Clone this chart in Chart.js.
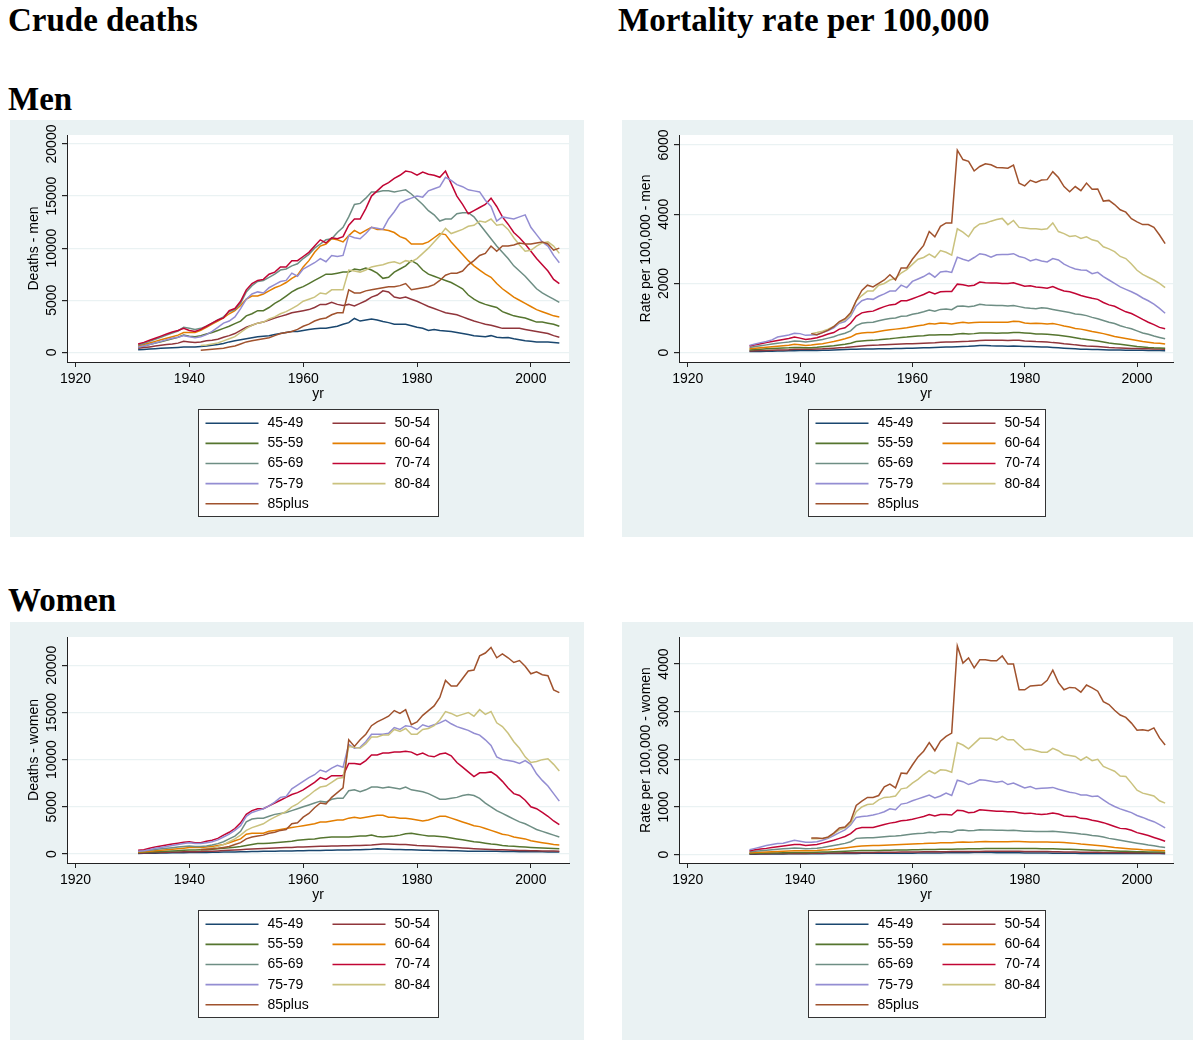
<!DOCTYPE html>
<html>
<head>
<meta charset="utf-8">
<script src="https://cdn.jsdelivr.net/npm/chart.js@4.4.1/dist/chart.umd.min.js"></script>
<style>
  body { margin: 0; width: 1200px; height: 1051px; background: #fff; position: relative; overflow: hidden; }
  .head { position: absolute; font: bold 33px "Liberation Serif", "Times New Roman", serif; line-height: 33px; color: #000; white-space: nowrap; }
  canvas { position: absolute; }
</style>
</head>
<body>
<div class="head" style="left:8px;top:4px">Crude deaths</div>
<div class="head" style="left:618px;top:4px">Mortality rate per 100,000</div>
<div class="head" style="left:8px;top:83px">Men</div>
<div class="head" style="left:8px;top:584px">Women</div>

<canvas id="deathsMen" width="574" height="417" style="left:10px;top:120px"></canvas>
<canvas id="rateMen" width="571" height="417" style="left:622px;top:120px"></canvas>
<canvas id="deathsWomen" width="574" height="418" style="left:10px;top:622px"></canvas>
<canvas id="rateWomen" width="571" height="418" style="left:622px;top:622px"></canvas>

<script>
// years 1931-2005
const years = [1931,1932,1933,1934,1935,1936,1937,1938,1939,1940,
  1941,1942,1943,1944,1945,1946,1947,1948,1949,1950,
  1951,1952,1953,1954,1955,1956,1957,1958,1959,1960,
  1961,1962,1963,1964,1965,1966,1967,1968,1969,1970,
  1971,1972,1973,1974,1975,1976,1977,1978,1979,1980,
  1981,1982,1983,1984,1985,1986,1987,1988,1989,1990,
  1991,1992,1993,1994,1995,1996,1997,1998,1999,2000,
  2001,2002,2003,2004,2005];
const ageGroups = ['45-49','50-54','55-59','60-64','65-69','70-74','75-79','80-84','85plus'];
const ageColors = ['#1a476f','#90353b','#55752f','#e37e00','#6e8e84','#c10534','#938dd2','#cac27e','#a0522d'];
const xTicks = [1920, 1940, 1960, 1980, 2000];
const deathTicksMen = [0, 5000, 10000, 15000, 20000];
const rateTicksMen = [0, 2000, 4000, 6000];
const deathTicksWomen = [0, 5000, 10000, 15000, 20000];
const rateTicksWomen = [0, 1000, 2000, 3000, 4000];
const n = null;

// ---- crude deaths, men
const deathsMen45 = [250,280,320,350,380,410,440,470,500,500, 500,550,600,680,750,850,1000,1100,1200,1300,
  1400,1500,1550,1600,1700,1800,1900,2000,2000,2100, 2200,2250,2300,2300,2400,2500,2700,2850,3250,3000,
  3100,3200,3100,2950,2850,2700,2700,2700,2550,2400, 2300,2100,2200,2100,2050,2000,1900,1800,1700,1600,
  1550,1500,1600,1450,1400,1420,1300,1200,1100,1050, 1000,1000,980,950,900];
const deathsMen50 = [400,450,520,600,680,750,800,880,1050,1000, 950,1000,1100,1150,1250,1450,1600,1800,2100,2400,
  2600,2800,2900,3100,3300,3450,3600,3800,3900,4000, 4100,4300,4600,4600,4800,4600,4500,4600,4450,4700,
  4950,5300,5500,5900,5800,5300,5200,5300,5100,4900, 4650,4400,4200,4000,3800,3700,3600,3400,3200,3000,
  2850,2700,2600,2450,2300,2300,2300,2300,2200,2100, 2000,1900,1800,1600,1450];
const deathsMen55 = [500,600,750,900,1000,1150,1300,1450,1650,1550, 1500,1600,1750,1900,2100,2300,2500,2750,3000,3500,
  3700,4000,4000,4300,4700,5000,5400,5800,6100,6300, 6600,6900,7200,7500,7500,7600,7700,7700,8000,7900,
  8100,7900,7600,7100,7200,7700,8000,8300,8800,8500, 7900,7500,7300,7100,6900,6700,6400,6100,5500,5100,
  4800,4600,4450,4300,3900,3700,3500,3400,3300,3100, 2900,2900,2800,2700,2500];
const deathsMen60 = [600,750,900,1050,1200,1350,1500,1650,1900,1900, 1900,2100,2400,2700,3000,3300,3700,4000,4500,5100,
  5400,5400,5600,5900,6200,6400,6700,7100,7400,8200, 8800,9600,10200,10400,10900,10800,10600,11200,11700,11400,
  11700,12000,11800,11800,11700,11500,11100,10900,10400,10400, 10400,10600,11000,11400,11300,10600,10000,9400,8800,8300,
  7900,7500,7200,6600,6100,5700,5300,5000,4700,4400, 4100,3900,3700,3500,3400];
const deathsMen65 = [700,850,1050,1250,1450,1650,1850,2050,2400,2300, 2200,2300,2500,2800,3100,3400,3900,4100,4700,5800,
  6400,6800,6900,7200,7500,7900,8000,8300,8500,9000, 9400,10000,10400,10800,10900,11500,12000,13000,14200,14300,
  14800,15400,15400,15500,15500,15400,15500,15600,15200,14700, 14200,13600,13200,12600,12800,12800,13300,13400,13400,13000,
  12300,11600,10900,10200,9600,9000,8300,7800,7300,6700, 6100,5700,5400,5100,4800];
const deathsMen70 = [800,950,1150,1350,1550,1750,1950,2100,2300,2100, 2000,2200,2500,2800,3100,3300,4000,4200,4900,6000,
  6600,6900,7000,7500,7700,8200,8200,8800,8800,9200, 9600,10200,10800,10500,11000,10900,11100,12200,12800,12800,
  13800,15000,15500,16000,16300,16700,17000,17400,17300,17000, 17300,17100,17000,16800,17400,16200,15000,14200,13300,13600,
  13900,14200,14800,14000,13000,12300,11500,11000,10400,9700, 9000,8400,7800,7000,6600];
const deathsMen75 = [500,600,750,900,1050,1200,1350,1450,1600,1500, 1400,1500,1700,2000,2400,2800,3000,3400,4200,5100,
  5600,5800,5700,6200,6500,6800,6900,7600,7300,8000, 8300,8600,9000,8700,9300,9200,9300,11200,11000,10900,
  11400,12000,11900,11800,12800,13500,14300,14600,14800,15000, 14900,15500,15700,15900,16800,16500,16100,15900,15600,15500,
  15400,14600,14000,12600,13000,12900,12800,13000,13200,12000, 11300,10600,10200,9300,8600];
const deathsMen80 = [n,n,n,n,n,n,n,n,n,n, n,650,700,800,900,1100,1300,1500,1900,2300,
  2600,2800,2900,3200,3400,3700,3900,4200,4500,4900, 5100,5300,5700,5600,6000,6000,6000,7900,7800,7700,
  7900,8200,8300,8400,8600,8700,8500,8800,8700,9000, 9500,10000,10600,11200,11900,11400,11600,11800,12100,12200,
  12600,12500,12800,12200,12300,11800,11000,10300,9700,9800, 10200,10500,10600,10200,9500];
const deathsMen85 = [n,n,n,n,n,n,n,n,n,n, n,200,250,300,350,400,500,600,800,1000,
  1100,1200,1300,1400,1600,1800,1900,2000,2200,2500, 2700,3000,3200,3300,3600,3800,3800,6000,5700,5700,
  5900,6000,6100,6200,6300,6300,6400,6600,6000,6100, 6200,6300,6500,6900,7400,7600,7600,7800,8400,8800,
  9300,9500,10200,9700,10200,10200,10300,10500,10400,10400, 10500,10600,10400,9800,10000];

// ---- mortality rate per 100,000, men
const rateMen45 = [30,33,36,40,43,46,50,53,58,60, 60,62,65,68,72,76,82,88,95,100,
  103,106,108,110,113,116,120,123,127,130, 135,140,145,150,155,160,165,172,180,185,
  195,205,210,200,195,190,188,190,185,180, 175,170,165,160,150,140,130,120,110,100,
  95,90,88,85,80,78,75,72,70,68, 66,64,62,60,58];
const rateMen50 = [50,55,60,65,70,75,80,85,95,95, 95,100,105,110,120,130,140,150,165,180,
  195,205,215,220,230,235,240,248,255,260, 265,272,280,285,300,305,310,318,325,330,
  340,350,355,360,360,355,350,360,355,340, 330,320,315,305,290,280,260,245,225,210,
  195,185,175,165,150,140,135,128,122,120, 115,112,108,105,100];
const rateMen55 = [80,90,100,110,120,128,135,140,150,150, 140,145,155,170,185,200,220,240,270,320,
  340,350,355,370,390,400,420,440,450,470, 480,490,510,510,520,520,520,540,550,540,
  550,570,570,570,560,570,570,580,580,570, 560,540,540,530,520,500,480,460,430,400,
  380,360,340,310,280,260,240,220,200,180, 165,150,140,135,130];
const rateMen60 = [110,125,140,155,170,185,200,215,240,230, 210,220,240,260,290,320,360,400,450,540,
  570,580,580,610,640,660,680,700,720,750, 780,800,840,830,860,850,830,860,880,860,
  870,880,880,880,880,880,880,910,900,860, 840,850,840,830,840,810,770,740,700,680,
  650,610,580,550,510,470,440,410,380,350, 320,300,280,270,250];
const rateMen65 = [150,175,200,225,250,270,290,310,340,330, 310,330,350,380,420,460,520,560,630,780,
  850,870,880,920,960,990,1000,1050,1060,1110, 1140,1180,1230,1200,1250,1260,1240,1340,1350,1330,
  1350,1400,1380,1370,1360,1360,1350,1360,1330,1300, 1280,1270,1300,1280,1250,1220,1190,1160,1120,1100,
  1070,1020,980,930,880,840,780,730,690,630, 570,530,480,440,400];
const rateMen70 = [190,230,260,290,320,350,380,410,450,420, 380,400,430,480,540,580,680,720,850,1050,
  1150,1180,1200,1270,1330,1380,1400,1500,1500,1560, 1620,1680,1760,1700,1760,1770,1770,1980,1960,1930,
  1950,2040,2020,2010,2010,2000,2000,2020,1970,1920, 1930,1900,1880,1860,1910,1840,1780,1760,1710,1650,
  1610,1570,1540,1450,1380,1340,1260,1180,1130,1050, 960,880,810,730,690];
const rateMen75 = [210,250,290,320,370,450,480,510,560,550, 500,510,520,580,640,720,850,900,1050,1350,
  1500,1560,1540,1630,1700,1780,1780,1950,1880,2060, 2130,2200,2300,2180,2330,2350,2320,2760,2700,2650,
  2750,2860,2830,2760,2830,2840,2840,2860,2780,2740, 2650,2700,2650,2620,2720,2680,2560,2480,2420,2390,
  2380,2280,2320,2200,2100,2000,1900,1830,1760,1680, 1580,1500,1400,1280,1140];
const rateMen80 = [n,n,n,n,n,n,n,n,n,n, n,550,580,620,680,760,880,950,1100,1500,
  1650,1780,1780,1950,2000,2100,2150,2300,2400,2550, 2700,2750,2850,2750,2950,2900,2820,3580,3480,3350,
  3600,3720,3740,3800,3850,3880,3700,3820,3620,3600, 3580,3580,3560,3580,3750,3500,3440,3360,3380,3300,
  3350,3260,3220,3060,3000,2920,2780,2720,2560,2380, 2260,2180,2100,2000,1880];
const rateMen85 = [n,n,n,n,n,n,n,n,n,n, n,550,520,580,650,750,900,980,1150,1500,
  1800,1950,1900,2000,2100,2250,2100,2450,2450,2700, 2900,3100,3500,3350,3650,3750,3750,5850,5580,5530,
  5250,5380,5460,5430,5350,5340,5330,5420,4900,4820, 4980,4920,4990,5000,5230,5060,4800,4650,4800,4680,
  4900,4720,4730,4380,4400,4280,4130,4060,3870,3780, 3700,3700,3620,3400,3150];

// ---- crude deaths, women
const deathsWomen45 = [60,70,80,90,100,110,120,130,140,150, 150,160,170,180,190,200,210,220,240,250,
  260,270,280,290,300,310,320,330,340,350, 360,370,380,390,400,410,420,430,450,450,
  480,500,550,520,500,480,470,460,440,420, 400,390,380,370,360,350,340,320,300,300,
  290,290,280,280,270,260,260,250,250,240, 230,230,220,210,200];
const deathsWomen50 = [100,115,130,150,170,185,200,215,240,250, 250,260,280,300,330,360,390,420,460,500,
  530,560,590,610,630,660,680,700,730,750, 770,790,810,820,850,860,870,880,900,900,
  920,950,1000,1050,1050,1030,1010,1000,950,900, 870,840,810,780,750,720,680,640,600,560,
  530,500,480,460,450,430,400,380,360,350, 340,330,320,310,300];
const deathsWomen55 = [150,175,200,230,260,290,320,350,390,420, 430,440,460,500,550,600,650,720,800,900,
  1000,1100,1100,1150,1200,1250,1300,1350,1450,1500, 1550,1600,1700,1750,1800,1800,1800,1800,1850,1900,
  1900,2000,1850,1800,1850,1900,2000,2150,2200,2100, 2000,1900,1900,1850,1800,1700,1600,1500,1400,1300,
  1250,1150,1050,1000,900,850,820,780,740,700, 670,640,610,580,550];
const deathsWomen60 = [200,240,290,340,400,450,500,560,620,680, 700,700,750,800,900,1000,1200,1400,1600,2100,
  2200,2200,2200,2400,2500,2600,2700,2800,2900,3000, 3100,3200,3400,3400,3500,3600,3600,3800,3900,3800,
  3900,4000,4100,4100,3900,3900,3800,3800,3700,3600, 3500,3600,3800,4000,4000,3800,3600,3400,3200,3000,
  2900,2700,2500,2300,2100,2000,1800,1700,1600,1400, 1300,1200,1100,1000,950];
const deathsWomen65 = [300,340,400,470,550,610,670,730,800,850, 800,800,850,950,1100,1300,1600,1900,2400,3400,
  3700,3800,3800,4000,4200,4300,4400,4600,4800,5000, 5200,5400,5600,5500,5800,5900,5900,6700,6800,6600,
  6800,7100,7100,7000,7100,7000,6900,7100,6800,6700, 6600,6400,6100,5800,5800,5900,6000,6200,6300,6200,
  5900,5400,5000,4600,4300,4000,3700,3400,3200,2900, 2600,2400,2200,2000,1800];
const deathsWomen70 = [400,450,600,750,850,950,1050,1150,1250,1300, 1200,1200,1350,1450,1650,2000,2300,2700,3300,4200,
  4600,4800,4800,5100,5400,5700,6000,6300,6500,6800, 7200,7600,8100,7900,8300,8300,8300,9600,9600,9500,
  9900,10500,10500,10700,10700,10800,10800,10900,10800,10500, 10700,10400,10300,10600,10700,10400,9700,9200,8700,8200,
  8600,8600,8700,8300,7700,7000,6400,6200,5700,5000, 4800,4400,4000,3500,3100];
const deathsWomen75 = [300,350,450,600,700,800,900,1000,1100,1200, 1100,1100,1200,1300,1500,1800,2100,2500,3000,4000,
  4400,4600,4800,5100,5500,6000,6100,6900,7300,7700, 8100,8400,8900,8700,9100,9400,9200,11600,11200,11300,
  11900,12700,12700,12700,12800,13400,13200,13600,13500,13200, 13700,13500,13700,13900,14200,13800,13500,13300,13100,12800,
  12600,12100,11500,10300,10000,9900,9800,9600,9900,9500, 8500,7800,7200,6400,5600];
const deathsWomen80 = [n,n,n,n,n,n,n,n,n,n, n,500,550,650,800,1000,1300,1600,2000,2500,
  2800,3000,3200,3600,3900,4200,4500,5000,5300,5800, 6200,6700,7100,7200,7600,8000,8100,11400,11300,11200,
  11700,12400,12400,12600,12600,13200,13000,13300,12700,12700, 13200,13300,13600,14200,15100,14900,14600,14800,15000,14600,
  15300,14800,15100,13900,13500,12800,11900,11200,10300,9700, 9800,10000,10100,9500,8800];
const deathsWomen85 = [n,n,n,n,n,n,n,n,n,n, n,450,500,550,600,700,800,1000,1200,1600,
  1800,1900,2000,2200,2300,2500,2600,3200,3300,3900, 4300,4900,5400,5300,6000,6500,7000,12100,11400,12100,
  12700,13600,14000,14300,14600,15200,14900,15300,13700,14000, 14700,15200,15700,16600,18400,17800,17800,18600,19400,19500,
  21000,21300,21900,20800,21200,20800,20300,20500,19900,19100, 19300,19000,18900,17400,17100];

// ---- mortality rate per 100,000, women
const rateWomen45 = [8,9,10,11,12,13,14,15,16,16, 16,17,18,19,20,21,22,23,24,25,
  26,26,27,27,28,28,29,29,30,30, 31,32,33,34,35,36,37,38,39,40,
  41,42,42,41,40,39,38,37,36,35, 34,33,32,31,30,29,28,27,26,25,
  25,24,24,23,23,22,22,21,21,21, 20,20,20,20,19];
const rateWomen50 = [15,16,17,18,20,21,22,23,24,25, 25,26,27,29,31,33,35,37,39,40,
  42,44,45,47,48,50,51,52,54,55, 56,57,58,59,60,61,62,63,64,65,
  66,67,68,69,70,70,70,70,68,67, 66,65,64,62,60,58,56,54,52,50,
  49,48,47,46,45,44,42,40,38,37, 36,36,35,35,35];
const rateWomen55 = [25,27,29,31,33,35,37,40,43,45, 44,45,48,52,56,60,65,70,75,80,
  83,85,86,88,90,92,94,96,98,100, 102,104,106,108,110,112,114,116,118,120,
  122,124,126,127,128,129,130,130,130,128, 126,125,124,123,120,117,114,110,105,100,
  96,92,88,84,80,76,72,68,64,60, 58,56,54,52,50];
const rateWomen60 = [40,45,50,55,60,65,70,75,80,80, 78,80,85,95,100,110,125,140,155,170,
  180,185,188,192,196,200,205,210,215,220, 225,230,240,240,250,250,250,260,265,260,
  262,270,272,270,270,270,268,272,272,270, 265,262,262,262,260,258,252,245,235,220,
  210,200,190,178,165,150,138,128,118,110, 100,95,90,85,80];
const rateWomen65 = [60,70,80,90,100,110,120,130,140,135, 120,125,135,150,170,190,210,235,270,340,
  350,355,355,365,375,385,390,400,415,430, 440,450,470,460,480,480,470,510,515,500,
  505,520,515,515,510,510,505,510,500,490, 490,485,485,485,490,480,470,460,450,430,
  420,400,390,370,340,320,300,280,260,240, 220,200,185,165,150];
const rateWomen70 = [80,100,115,130,150,165,180,195,210,210, 190,200,210,240,270,300,340,380,440,540,
  570,570,570,600,630,660,680,710,720,740, 770,800,840,810,840,840,830,930,920,880,
  890,940,930,920,910,910,900,900,880,860, 870,850,840,850,870,850,810,800,800,760,
  750,720,700,670,630,590,550,540,510,460, 430,400,360,320,280];
const rateWomen75 = [100,130,160,190,210,230,240,270,300,280, 260,260,270,300,340,400,460,520,620,780,
  800,810,830,860,900,960,940,1060,1080,1130, 1170,1210,1250,1190,1230,1290,1240,1560,1530,1470,
  1510,1570,1560,1540,1520,1540,1470,1500,1450,1400, 1430,1380,1390,1400,1410,1370,1340,1310,1290,1250,
  1250,1220,1230,1150,1070,1010,960,920,880,820, 780,730,690,630,560];
const rateWomen80 = [n,n,n,n,n,n,n,n,n,n, n,330,330,340,360,440,520,560,650,900,
  1000,1050,1060,1150,1200,1210,1230,1380,1400,1500, 1580,1680,1760,1700,1780,1770,1730,2350,2300,2220,
  2330,2440,2440,2440,2400,2480,2410,2410,2300,2200, 2210,2180,2150,2150,2230,2180,2100,2080,2060,1980,
  2050,1970,2000,1850,1800,1750,1650,1640,1500,1350, 1290,1260,1230,1130,1080];
const rateWomen85 = [n,n,n,n,n,n,n,n,n,n, n,350,350,340,370,450,560,580,700,1030,
  1120,1200,1200,1240,1420,1480,1400,1710,1700,1880, 2050,2170,2350,2180,2380,2480,2550,4380,4020,4130,
  3920,4090,4090,4070,4070,4170,4000,4000,3460,3460, 3540,3550,3560,3660,3870,3610,3460,3510,3500,3410,
  3560,3500,3430,3210,3150,3030,2930,2880,2760,2610, 2620,2600,2660,2450,2300];

Chart.defaults.font.family = '"Liberation Sans", Arial, Helvetica, sans-serif';
Chart.defaults.font.size = 14;
Chart.defaults.color = '#000';

const panelBg = '#eaf2f3';

// panel background + white plot region
const plotRegion = {
  id: 'plotRegion',
  beforeDraw(chart) {
    const ctx = chart.ctx, a = chart.chartArea;
    ctx.save();
    ctx.fillStyle = panelBg;
    ctx.fillRect(0, 0, chart.width, chart.height);
    ctx.fillStyle = '#fff';
    ctx.fillRect(a.left, a.top, a.right - a.left, a.bottom - a.top);
    ctx.restore();
  }
};

// vertical y tick labels, like Stata
const yLabels = {
  id: 'yLabels',
  afterDraw(chart) {
    const ctx = chart.ctx, s = chart.scales.y;
    ctx.save();
    ctx.fillStyle = '#000';
    ctx.font = '14px "Liberation Sans", Arial, sans-serif';
    ctx.textAlign = 'center';
    ctx.textBaseline = 'middle';
    s.ticks.forEach(t => {
      ctx.save();
      ctx.translate(chart.chartArea.left - 15, s.getPixelForValue(t.value));
      ctx.rotate(-Math.PI / 2);
      ctx.fillText(String(t.value), 0, 0);
      ctx.restore();
    });
    ctx.restore();
  }
};

// boxed two-column legend under the plot
const boxLegend = {
  id: 'boxLegend',
  afterDraw(chart, args, opts) {
    const ctx = chart.ctx, a = chart.chartArea;
    const w = opts.width, h = 107;
    const left = Math.round((a.left + a.right) / 2 - w / 2) + 0.5;
    const top = Math.round(a.bottom + opts.gap) + 0.5;
    ctx.save();
    ctx.fillStyle = '#fff';
    ctx.fillRect(left, top, w, h);
    ctx.strokeStyle = '#333';
    ctx.lineWidth = 1;
    ctx.strokeRect(left, top, w, h);
    ctx.font = '14px "Liberation Sans", Arial, sans-serif';
    ctx.textAlign = 'left';
    ctx.textBaseline = 'middle';
    chart.data.datasets.forEach((ds, i) => {
      const col = i % 2, row = Math.floor(i / 2);
      const y = top + 13.7 + row * 20.15;
      const x0 = left + 7 + col * 127;
      ctx.strokeStyle = ds.borderColor;
      ctx.lineWidth = 1.6;
      ctx.beginPath();
      ctx.moveTo(x0, y);
      ctx.lineTo(x0 + 53, y);
      ctx.stroke();
      ctx.fillStyle = '#000';
      ctx.fillText(ds.label, x0 + 62, y);
    });
    ctx.restore();
  }
};

function makePanel(id, series, cfg) {
  const datasets = ageGroups.map((g, i) => ({
    label: g,
    data: years.map((yr, j) => ({ x: yr, y: series[i][j] })),
    borderColor: ageColors[i],
    backgroundColor: ageColors[i],
    borderWidth: 1.5,
    pointRadius: 0,
    fill: false,
    tension: 0,
    order: ageGroups.length - i
  }));
  return new Chart(document.getElementById(id), {
    type: 'line',
    data: { datasets },
    options: {
      responsive: false,
      animation: false,
      devicePixelRatio: 1,
      layout: { padding: { left: 0, top: 15, right: cfg.padRight, bottom: cfg.padBottom } },
      plugins: {
        legend: { display: false },
        tooltip: { enabled: false },
        boxLegend: { width: cfg.legendWidth, gap: 47 }
      },
      scales: {
        x: {
          type: 'linear',
          min: cfg.xMin,
          max: cfg.xMax,
          afterBuildTicks: s => { s.ticks = xTicks.map(v => ({ value: v })); },
          afterFit: s => { s.height = 41; },
          grid: { drawOnChartArea: false, drawTicks: true, tickLength: 5, tickColor: '#222' },
          border: { display: true, color: '#222', width: 1 },
          ticks: { padding: 4, maxRotation: 0, callback: v => String(v) },
          title: { display: true, text: 'yr', padding: { top: 0, bottom: 0 } }
        },
        y: {
          type: 'linear',
          min: cfg.yMin,
          max: cfg.yMax,
          afterBuildTicks: s => { s.ticks = cfg.yTicks.map(v => ({ value: v })); },
          afterFit: s => { s.width = 57; },
          grid: { color: panelBg, lineWidth: 1.2, drawTicks: true, tickLength: 5, tickColor: '#222' },
          border: { display: true, color: '#222', width: 1 },
          ticks: { display: false },
          title: { display: true, text: cfg.yTitle, padding: { top: 16, bottom: 0 } }
        }
      }
    },
    plugins: [plotRegion, yLabels, boxLegend]
  });
}

makePanel('deathsMen',
  [deathsMen45, deathsMen50, deathsMen55, deathsMen60, deathsMen65, deathsMen70, deathsMen75, deathsMen80, deathsMen85],
  { yTitle: 'Deaths - men', yTicks: deathTicksMen, yMin: -931, yMax: 20864,
    xMin: 1918.5, xMax: 2006.7, padRight: 15, padBottom: 134, legendWidth: 240 });

makePanel('rateMen',
  [rateMen45, rateMen50, rateMen55, rateMen60, rateMen65, rateMen70, rateMen75, rateMen80, rateMen85],
  { yTitle: 'Rate per 100,000 - men', yTicks: rateTicksMen, yMin: -270, yMax: 6290,
    xMin: 1918.45, xMax: 2006.4, padRight: 20, padBottom: 134, legendWidth: 237 });

makePanel('deathsWomen',
  [deathsWomen45, deathsWomen50, deathsWomen55, deathsWomen60, deathsWomen65, deathsWomen70, deathsWomen75, deathsWomen80, deathsWomen85],
  { yTitle: 'Deaths - women', yTicks: deathTicksWomen, yMin: -955, yMax: 23000,
    xMin: 1918.5, xMax: 2006.7, padRight: 15, padBottom: 136, legendWidth: 240 });

makePanel('rateWomen',
  [rateWomen45, rateWomen50, rateWomen55, rateWomen60, rateWomen65, rateWomen70, rateWomen75, rateWomen80, rateWomen85],
  { yTitle: 'Rate per 100,000 - women', yTicks: rateTicksWomen, yMin: -177, yMax: 4568,
    xMin: 1918.45, xMax: 2006.4, padRight: 20, padBottom: 136, legendWidth: 237 });
</script>
</body>
</html>
